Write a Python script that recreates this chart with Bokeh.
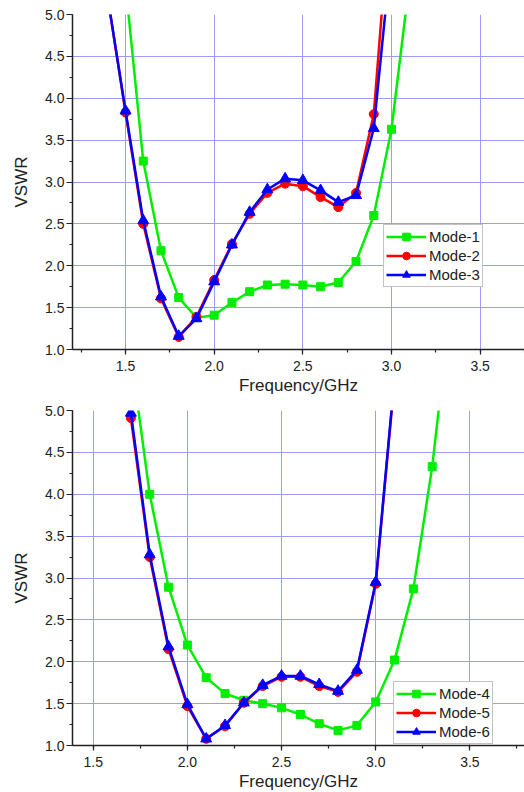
from bokeh.plotting import figure
from bokeh.layouts import column
from bokeh.models import SingleIntervalTicker, Legend, LegendItem, NumeralTickFormatter, Range1d
from bokeh.embed import file_html
from bokeh.resources import INLINE

# ---- top chart data ----
freq_a = [1.4, 1.5, 1.6, 1.7, 1.8, 1.9, 2.0, 2.1, 2.2, 2.3, 2.4, 2.5, 2.6, 2.7, 2.8, 2.9, 3.0, 3.1]
mode1 = [None, 5.36, 3.25, 2.18, 1.62, 1.38, 1.41, 1.56, 1.69, 1.77, 1.78, 1.77, 1.75, 1.80, 2.05, 2.60, 3.63, 5.37]
mode2 = [5.2, 3.83, 2.50, 1.61, 1.15, 1.39, 1.83, 2.26, 2.62, 2.87, 2.98, 2.95, 2.82, 2.70, 2.87, 3.81, 6.5, None]
mode3 = [5.2, 3.85, 2.54, 1.63, 1.16, 1.37, 1.81, 2.25, 2.64, 2.91, 3.04, 3.02, 2.90, 2.76, 2.84, 3.64, 5.76, None]

# ---- bottom chart data ----
freq_b = [1.7, 1.8, 1.9, 2.0, 2.1, 2.2, 2.3, 2.4, 2.5, 2.6, 2.7, 2.8, 2.9, 3.0, 3.1, 3.2, 3.3, 3.4]
mode4 = [5.67, 4.00, 2.89, 2.20, 1.81, 1.62, 1.54, 1.50, 1.45, 1.37, 1.26, 1.18, 1.24, 1.52, 2.02, 2.87, 4.33, 6.3]
mode5 = [4.91, 3.25, 2.15, 1.47, 1.08, 1.23, 1.51, 1.71, 1.82, 1.82, 1.71, 1.64, 1.88, 2.93, 5.37, None, None, None]
mode6 = [4.97, 3.28, 2.18, 1.49, 1.08, 1.24, 1.51, 1.72, 1.83, 1.83, 1.73, 1.65, 1.90, 2.95, 5.40, None, None, None]

x_label = "Frequency/GHz"
y_label = "VSWR"

FONT = "Liberation Sans"
GREEN = "#00ee00"
RED = "#ff0000"
BLUE = "#0000ff"
GRID = "#9c9cff"


def clean(xs, ys):
    px, py = [], []
    for a, b in zip(xs, ys):
        if b is not None:
            px.append(a)
            py.append(b)
    return px, py


def make_fig(xr, top_border, series, names, legend_loc):
    p = figure(frame_width=452, frame_height=335, x_range=Range1d(*xr), y_range=Range1d(1.0, 5.0),
               output_backend="svg", toolbar_location=None,
               min_border_left=72, min_border_right=0, min_border_top=top_border, min_border_bottom=47)
    p.outline_line_color = None
    p.background_fill_color = "white"
    p.border_fill_color = "white"
    for ax in (p.xaxis[0], p.yaxis[0]):
        ax.ticker = SingleIntervalTicker(interval=0.5, num_minor_ticks=2)
        ax.formatter = NumeralTickFormatter(format="0.0")
        ax.axis_line_color = "#222222"
        ax.axis_line_width = 1.5
        ax.major_tick_line_color = "#222222"
        ax.minor_tick_line_color = "#222222"
        ax.major_tick_line_width = 1.2
        ax.minor_tick_line_width = 1.2
        ax.major_tick_in = 0
        ax.minor_tick_in = 0
        ax.major_label_text_font = FONT
        ax.major_label_text_font_size = "14px"
        ax.major_label_text_color = "#222222"
        ax.axis_label_text_font = FONT
        ax.axis_label_text_font_size = "17px"
        ax.axis_label_text_font_style = "normal"
        ax.axis_label_text_color = "#222222"
    p.xaxis.major_tick_out = 5
    p.xaxis.minor_tick_out = 3
    p.yaxis.major_tick_out = 6
    p.yaxis.minor_tick_out = 3
    p.xaxis.major_label_standoff = 6
    p.yaxis.major_label_standoff = 2
    p.xaxis.axis_label = x_label
    p.yaxis.axis_label = y_label
    p.xaxis.axis_label_standoff = 2
    p.yaxis.axis_label_standoff = 11
    p.xgrid.grid_line_color = GRID
    p.ygrid.grid_line_color = GRID
    p.xgrid.grid_line_width = 1
    p.ygrid.grid_line_width = 1
    p.xgrid.ticker = SingleIntervalTicker(interval=0.5)
    p.ygrid.ticker = SingleIntervalTicker(interval=0.5)

    items = []
    colors = [GREEN, RED, BLUE]
    markers = ["square", "circle", "triangle"]
    sizes = [8, 9, 11]
    for (xs, ys), name, c, m, s in zip(series, names, colors, markers, sizes):
        px, py = clean(xs, ys)
        r1 = p.line(px, py, line_color=c, line_width=2.5)
        r2 = p.scatter(px, py, marker=m, size=s, fill_color=c, line_color=c)
        items.append(LegendItem(label=name, renderers=[r1, r2]))
    leg = Legend(items=items, location=legend_loc, margin=0, padding=2, spacing=0,
                 label_text_font=FONT, label_text_font_size="15px", label_text_color="#222222",
                 label_height=19, glyph_height=19, glyph_width=40, label_standoff=3,
                 border_line_color="#888888", border_line_width=1,
                 background_fill_color="white", background_fill_alpha=1)
    p.add_layout(leg)
    return p


p1 = make_fig((1.201, 3.75), 14,
              [(freq_a, mode1), (freq_a, mode2), (freq_a, mode3)],
              ["Mode-1", "Mode-2", "Mode-3"], (311, 62))
p2 = make_fig((1.39, 3.79), 13,
              [(freq_b, mode4), (freq_b, mode5), (freq_b, mode6)],
              ["Mode-4", "Mode-5", "Mode-6"], (321, 1))

layout = column(p1, p2, spacing=0)
open("out.html", "w").write(file_html(layout, INLINE))
